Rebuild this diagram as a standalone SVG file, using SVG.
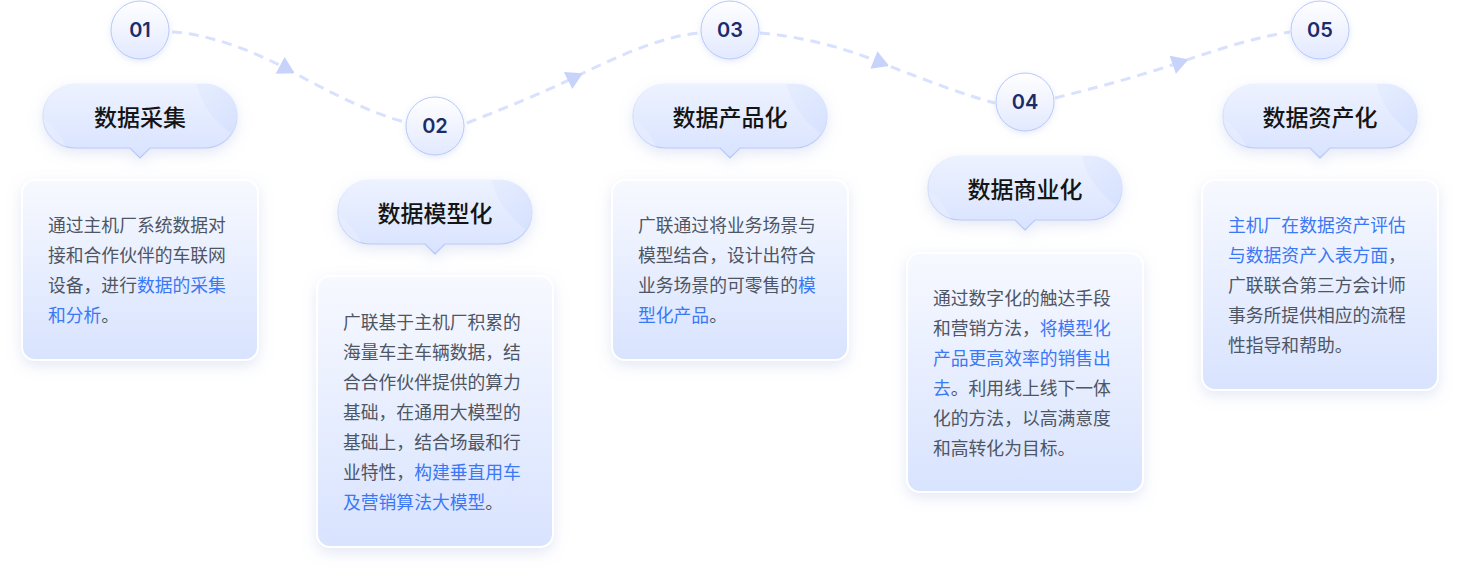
<svg xmlns="http://www.w3.org/2000/svg" width="1460" height="588" viewBox="0 0 1460 588">
<defs>
  <linearGradient id="gCircle" x1="0" y1="0" x2="0" y2="1">
    <stop offset="0" stop-color="#ffffff"/>
    <stop offset="1" stop-color="#e2e9ff"/>
  </linearGradient>
  <linearGradient id="gPill" x1="0" y1="0" x2="0" y2="1">
    <stop offset="0" stop-color="#edf2ff"/>
    <stop offset="1" stop-color="#d8e3ff"/>
  </linearGradient>
  <linearGradient id="gPillStroke" x1="0" y1="0" x2="0" y2="1">
    <stop offset="0" stop-color="#eef2ff"/>
    <stop offset="1" stop-color="#b2c4fa"/>
  </linearGradient>
  <linearGradient id="gCard" x1="0" y1="0" x2="0" y2="1">
    <stop offset="0" stop-color="#f7f9ff"/>
    <stop offset="1" stop-color="#d8e3fe"/>
  </linearGradient>
  <linearGradient id="gSheen" x1="0" y1="0" x2="1" y2="1">
    <stop offset="0" stop-color="#e6edff"/>
    <stop offset="1" stop-color="#cfdcfd"/>
  </linearGradient>
  <filter id="fShadow" x="-30%" y="-30%" width="160%" height="170%">
    <feDropShadow dx="0" dy="5" stdDeviation="7" flood-color="#9fb1dc" flood-opacity="0.28"/>
  </filter>
  <filter id="fSoft" x="-30%" y="-30%" width="160%" height="170%">
    <feDropShadow dx="0" dy="2" stdDeviation="3" flood-color="#a9b9e6" flood-opacity="0.3"/>
  </filter>
  <marker id="arrow" viewBox="-10 -10 20 20" markerWidth="20" markerHeight="20" refX="0" refY="0" orient="auto" markerUnits="userSpaceOnUse">
    <polygon points="11,0 -5.5,9.5 -5.5,-9.5" fill="#c7d3fb"/>
  </marker>
  <path id="pillShape" d="M-65,-32 H65 A32,32 0 0 1 65,32 H10 L0,42 L-10,32 H-65 A32,32 0 0 1 -65,-32 Z"/>
  <clipPath id="pillClip"><use href="#pillShape"/></clipPath>
  <g id="pill">
    <use href="#pillShape" fill="url(#gPill)" stroke="url(#gPillStroke)" stroke-width="1.2" filter="url(#fShadow)"/>
    <g clip-path="url(#pillClip)">
      <path d="M55,-40 C60,-10 75,10 110,30 L110,-40 Z" fill="url(#gSheen)" opacity="0.8"/>
      <path d="M-100,0 C-85,10 -75,25 -70,40 L-100,40 Z" fill="#e9efff" opacity="0.6"/>
    </g>
  </g>
</defs>
<style>
  .num { font-family: Inter, "Noto Sans", "DejaVu Sans", sans-serif; font-size: 20px; font-weight: 600; fill: #1c2c6a; text-anchor: middle; }
  .title { font-family: "Noto Sans CJK SC", sans-serif; font-size: 23px; font-weight: 500; fill: #141414; text-anchor: middle; }
  .body { font-family: "Noto Sans CJK SC", sans-serif; font-size: 17.8px; fill: #4e5563; }
  .hl { fill: #3a78f5; }
  .circ { fill: url(#gCircle); stroke: #b8c9fb; stroke-width: 1; filter: url(#fSoft); }
  .card { fill: url(#gCard); stroke: #ffffff; stroke-width: 2; filter: url(#fShadow); }
  .conn { fill: none; stroke: #d8e1fd; stroke-width: 3; stroke-dasharray: 10 7; marker-mid: url(#arrow); }
</style>
<rect width="1460" height="588" fill="#ffffff"/>

<g id="connectors">
  <path class="conn" d="M172,32 C210,34 255,52 285,68 C315,84 365,112 405,122"/>
  <path class="conn" d="M467,123 C500,110 545,92 573,78 C610,60 660,36 700,33"/>
  <path class="conn" d="M760,33 C800,36 845,48 879,62 C915,76 960,94 995,103"/>
  <path class="conn" d="M1055,98 C1095,88 1140,76 1178,63 C1215,50 1260,36 1290,32"/>
</g>

<g id="node-1">
  <circle class="circ" cx="140" cy="30" r="29"/>
  <text class="num" x="140" y="37">01</text>
  <use href="#pill" transform="translate(140,116)"/>
  <text class="title" x="140" y="126">数据采集</text>
  <rect class="card" x="22" y="180" width="236" height="180" rx="13"/>
  <text class="body" x="48" y="232">
    <tspan x="48" y="232">通过主机厂系统数据对</tspan>
    <tspan x="48" y="262">接和合作伙伴的车联网</tspan>
    <tspan x="48" y="292">设备，进行<tspan class="hl">数据的采集</tspan></tspan>
    <tspan x="48" y="322"><tspan class="hl">和分析</tspan>。</tspan>
  </text>
</g>

<g id="node-2">
  <circle class="circ" cx="435" cy="126" r="29"/>
  <text class="num" x="435" y="133">02</text>
  <use href="#pill" transform="translate(435,212)"/>
  <text class="title" x="435" y="222">数据模型化</text>
  <rect class="card" x="317" y="276" width="236" height="271" rx="13"/>
  <text class="body">
    <tspan x="343" y="329">广联基于主机厂积累的</tspan>
    <tspan x="343" y="359">海量车主车辆数据，结</tspan>
    <tspan x="343" y="389">合合作伙伴提供的算力</tspan>
    <tspan x="343" y="419">基础，在通用大模型的</tspan>
    <tspan x="343" y="449">基础上，结合场最和行</tspan>
    <tspan x="343" y="479">业特性，<tspan class="hl">构建垂直用车</tspan></tspan>
    <tspan x="343" y="509"><tspan class="hl">及营销算法大模型</tspan>。</tspan>
  </text>
</g>

<g id="node-3">
  <circle class="circ" cx="730" cy="30" r="29"/>
  <text class="num" x="730" y="37">03</text>
  <use href="#pill" transform="translate(730,116)"/>
  <text class="title" x="730" y="126">数据产品化</text>
  <rect class="card" x="612" y="180" width="236" height="180" rx="13"/>
  <text class="body">
    <tspan x="638" y="232">广联通过将业务场景与</tspan>
    <tspan x="638" y="262">模型结合，设计出符合</tspan>
    <tspan x="638" y="292">业务场景的可零售的<tspan class="hl">模</tspan></tspan>
    <tspan x="638" y="322"><tspan class="hl">型化产品</tspan>。</tspan>
  </text>
</g>

<g id="node-4">
  <circle class="circ" cx="1025" cy="102" r="29"/>
  <text class="num" x="1025" y="109">04</text>
  <use href="#pill" transform="translate(1025,188)"/>
  <text class="title" x="1025" y="198">数据商业化</text>
  <rect class="card" x="907" y="253" width="236" height="239" rx="13"/>
  <text class="body">
    <tspan x="933" y="305">通过数字化的触达手段</tspan>
    <tspan x="933" y="335">和营销方法，<tspan class="hl">将模型化</tspan></tspan>
    <tspan x="933" y="365" class="hl">产品更高效率的销售出</tspan>
    <tspan x="933" y="395"><tspan class="hl">去</tspan>。利用线上线下一体</tspan>
    <tspan x="933" y="425">化的方法，以高满意度</tspan>
    <tspan x="933" y="455">和高转化为目标。</tspan>
  </text>
</g>

<g id="node-5">
  <circle class="circ" cx="1320" cy="30" r="29"/>
  <text class="num" x="1320" y="37">05</text>
  <use href="#pill" transform="translate(1320,116)"/>
  <text class="title" x="1320" y="126">数据资产化</text>
  <rect class="card" x="1202" y="180" width="236" height="210" rx="13"/>
  <text class="body">
    <tspan x="1228" y="232" class="hl">主机厂在数据资产评估</tspan>
    <tspan x="1228" y="262"><tspan class="hl">与数据资产入表方面</tspan>，</tspan>
    <tspan x="1228" y="292">广联联合第三方会计师</tspan>
    <tspan x="1228" y="322">事务所提供相应的流程</tspan>
    <tspan x="1228" y="352">性指导和帮助。</tspan>
  </text>
</g>
</svg>
